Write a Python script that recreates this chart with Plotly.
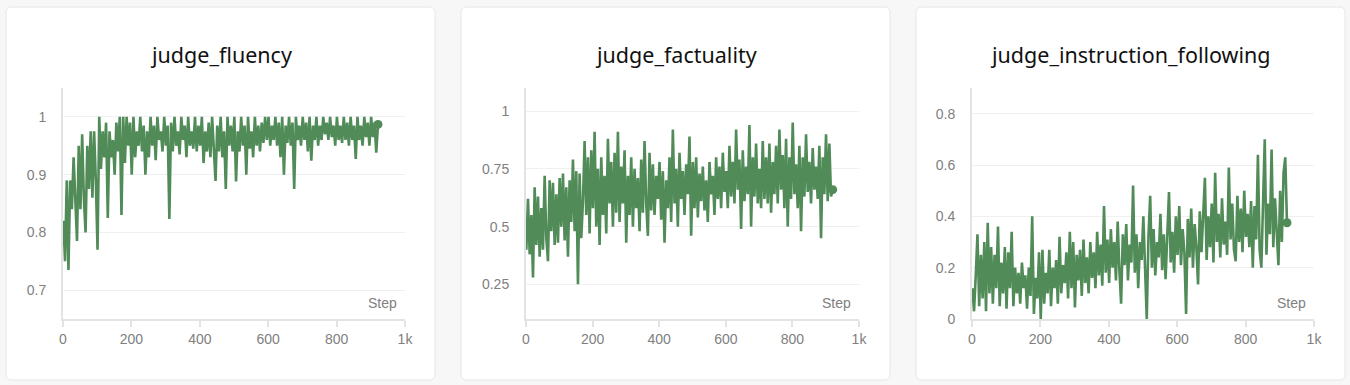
import plotly.graph_objects as go

# ---------------- data (one value every 5 steps) ----------------
titles = ["judge_fluency", "judge_factuality", "judge_instruction_following"]

fluency = [
    0.82, 0.75, 0.89, 0.735, 0.89, 0.84, 0.93, 0.85, 0.785, 0.95,
    0.84, 0.97, 0.86, 0.80, 0.95, 0.875, 0.975, 0.86, 0.975, 0.89,
    0.77, 1.0, 0.91, 0.975, 0.93, 0.99, 0.825, 0.975, 0.93, 0.96,
    0.9, 0.99, 0.94, 1.0, 0.83, 1.0, 0.92, 1.0, 0.95, 0.99,
    0.9, 1.0, 0.93, 0.975, 0.95, 1.0, 0.94, 0.985, 0.9, 0.975,
    0.93, 1.0, 0.95, 0.985, 0.925, 1.0, 0.96, 0.975, 0.94, 1.0,
    0.95, 0.985, 0.823, 0.99, 0.94, 1.0, 0.95, 0.975, 0.935, 1.0,
    0.96, 0.985, 0.93, 1.0, 0.95, 0.975, 0.945, 1.0, 0.94, 0.985,
    0.95, 1.0, 0.92, 0.975, 0.94, 0.99, 0.93, 1.0, 0.95, 0.889,
    0.985, 0.94, 1.0, 0.93, 0.975, 0.875, 1.0, 0.95, 0.985, 0.94,
    1.0, 0.888, 0.975, 0.94, 1.0, 0.95, 0.985, 0.9, 1.0, 0.945,
    0.975, 0.93, 1.0, 0.95, 0.985, 0.94, 0.99, 0.955, 1.0, 0.96,
    1.0, 0.95, 0.985, 0.96, 1.0, 0.95, 0.99, 0.93, 1.0, 0.9,
    0.985, 0.955, 1.0, 0.95, 0.99, 0.875, 1.0, 0.96, 0.985, 0.95,
    1.0, 0.96, 0.99, 0.94, 1.0, 0.924, 0.985, 0.96, 1.0, 0.95,
    0.985, 0.96, 1.0, 0.97, 0.99, 0.96, 1.0, 0.965, 0.985, 0.95,
    1.0, 0.96, 0.985, 0.955, 1.0, 0.96, 0.99, 0.95, 1.0, 0.96,
    0.985, 0.927, 1.0, 0.96, 0.985, 0.95, 1.0, 0.965, 0.99, 0.95,
    1.0, 0.965, 0.99, 0.938, 0.987,
]

factuality = [
    0.40, 0.62, 0.38, 0.55, 0.28, 0.67, 0.42, 0.63, 0.37, 0.58,
    0.40, 0.72, 0.45, 0.35, 0.70, 0.48, 0.69, 0.42, 0.64, 0.43,
    0.71, 0.50, 0.73, 0.44, 0.67, 0.37, 0.70, 0.52, 0.79, 0.48,
    0.74, 0.25, 0.73, 0.45, 0.61, 0.87, 0.55, 0.80, 0.47, 0.83,
    0.58, 0.91, 0.50, 0.75, 0.42, 0.80, 0.55, 0.72, 0.47, 0.88,
    0.60, 0.78, 0.50, 0.82, 0.56, 0.91, 0.52, 0.76, 0.60, 0.83,
    0.43, 0.72, 0.55, 0.80, 0.50, 0.75, 0.58, 0.71, 0.48, 0.79,
    0.56, 0.87, 0.60, 0.46, 0.82, 0.57, 0.77, 0.55, 0.72, 0.62,
    0.78, 0.53, 0.74, 0.43, 0.70, 0.58, 0.80, 0.52, 0.92, 0.60,
    0.75, 0.50, 0.82, 0.62, 0.74, 0.55, 0.77, 0.64, 0.89, 0.46,
    0.78, 0.58, 0.80, 0.54, 0.73, 0.61, 0.76, 0.57, 0.70, 0.52,
    0.78, 0.64, 0.72, 0.55, 0.80, 0.62, 0.76, 0.58, 0.82, 0.65,
    0.74, 0.58, 0.85, 0.63, 0.78, 0.60, 0.92, 0.66, 0.79, 0.49,
    0.83, 0.61, 0.76, 0.64, 0.94, 0.50, 0.80, 0.63, 0.86, 0.60,
    0.75, 0.58, 0.87, 0.62, 0.80, 0.60, 0.86, 0.56, 0.78, 0.64,
    0.85, 0.60, 0.92, 0.66, 0.81, 0.58, 0.88, 0.50, 0.80, 0.62,
    0.95, 0.64, 0.77, 0.58, 0.85, 0.48, 0.80, 0.63, 0.90, 0.65,
    0.78, 0.60, 0.84, 0.66, 0.76, 0.62, 0.85, 0.45, 0.80, 0.64,
    0.90, 0.61, 0.86, 0.63, 0.66,
]

instruction_following = [
    0.12, 0.03, 0.17, 0.33, 0.05, 0.25, 0.08, 0.30, 0.03, 0.375,
    0.10, 0.28, 0.06, 0.25, 0.12, 0.36, 0.05, 0.22, 0.10, 0.28,
    0.04, 0.26, 0.12, 0.34, 0.05, 0.20, 0.10, 0.18, 0.06, 0.22,
    0.12, 0.17, 0.04, 0.20, 0.09, 0.40, 0.02, 0.16, 0.08, 0.26,
    0.00, 0.27, 0.06, 0.18, 0.10, 0.27, 0.05, 0.20, 0.12, 0.23,
    0.06, 0.32, 0.10, 0.21, 0.14, 0.26, 0.08, 0.34, 0.12, 0.30,
    0.045, 0.25, 0.15, 0.27, 0.09, 0.31, 0.14, 0.24, 0.10, 0.30,
    0.16, 0.26, 0.12, 0.34, 0.17, 0.29, 0.13, 0.44, 0.18, 0.31,
    0.14, 0.35, 0.20, 0.30, 0.15, 0.38, 0.19, 0.06, 0.33, 0.21,
    0.37, 0.15, 0.29, 0.22, 0.52, 0.18, 0.33, 0.12, 0.30, 0.23,
    0.40, 0.16, 0.00, 0.32, 0.48, 0.20, 0.35, 0.17, 0.30, 0.24,
    0.41, 0.19, 0.33, 0.155, 0.36, 0.495, 0.22, 0.34, 0.18, 0.40,
    0.25, 0.44, 0.21, 0.35, 0.26, 0.02, 0.39, 0.24, 0.43, 0.20,
    0.37, 0.28, 0.135, 0.42, 0.26, 0.38, 0.55, 0.23, 0.40, 0.28,
    0.45, 0.22, 0.57, 0.30, 0.41, 0.24, 0.47, 0.29, 0.38, 0.25,
    0.59, 0.31, 0.45, 0.27, 0.225, 0.48, 0.30, 0.43, 0.26, 0.50,
    0.32, 0.41, 0.28, 0.46, 0.20, 0.44, 0.31, 0.64, 0.27, 0.20,
    0.48, 0.70, 0.25, 0.45, 0.33, 0.66, 0.28, 0.47, 0.34, 0.21,
    0.50, 0.30, 0.57, 0.63, 0.375,
]

step_start = 1
step_every = 5

x_tickvals = [0, 200, 400, 600, 800, 1000]
x_ticktext = ["0", "200", "400", "600", "800", "1k"]

y_ranges = [[0.65, 1.05], [0.1, 1.1], [0.0, 0.9]]
y_tickvals = [[0.7, 0.8, 0.9, 1.0], [0.25, 0.5, 0.75, 1.0], [0, 0.2, 0.4, 0.6, 0.8]]
y_ticktext = [["0.7", "0.8", "0.9", "1"], ["0.25", "0.5", "0.75", "1"], ["0", "0.2", "0.4", "0.6", "0.8"]]

series = [fluency, factuality, instruction_following]

# ---------------- layout geometry (pixels) ----------------
W, H = 1350, 385
cards = [(6, 435), (461, 890), (916, 1345)]
card_top, card_bot = 7, 380
plot_x = [(63, 405), (526, 859), (972, 1314)]
plot_top, plot_bot = 88, 319
title_y = 55
step_label_y = 303

GREEN = "rgb(80,139,88)"
AXIS = "#e3e3e3"
GRID = "#f0f0f0"
TICKC = "#808080"


def px(x):
    return x / W


def py(y):
    return 1 - y / H


def rounded_rect(x0, y0, x1, y1, r):
    rx, ry = r / W, r / H
    X0, X1 = px(x0), px(x1)
    Y0, Y1 = py(y0), py(y1)
    return (
        f"M {X0+rx},{Y0} L {X1-rx},{Y0} Q {X1},{Y0} {X1},{Y0-ry} "
        f"L {X1},{Y1+ry} Q {X1},{Y1} {X1-rx},{Y1} "
        f"L {X0+rx},{Y1} Q {X0},{Y1} {X0},{Y1+ry} "
        f"L {X0},{Y0-ry} Q {X0},{Y0} {X0+rx},{Y0} Z"
    )


fig = go.Figure()
shapes = []
annotations = []
layout_axes = {}

for k in range(3):
    n = "" if k == 0 else str(k + 1)
    vals = series[k]
    steps = [step_start + step_every * i for i in range(len(vals))]
    fig.add_trace(go.Scatter(
        x=steps, y=vals, mode="lines", xaxis="x" + n, yaxis="y" + n,
        line=dict(color=GREEN, width=2.6), hoverinfo="skip", showlegend=False,
    ))
    fig.add_trace(go.Scatter(
        x=[steps[-1]], y=[vals[-1]], mode="markers", xaxis="x" + n, yaxis="y" + n,
        marker=dict(color=GREEN, size=9), hoverinfo="skip", showlegend=False,
    ))
    shapes.append(dict(
        type="path", xref="paper", yref="paper",
        path=rounded_rect(cards[k][0], card_top, cards[k][1], card_bot, 6),
        fillcolor="white", line=dict(color="#e6e6e6", width=1), layer="below",
    ))
    layout_axes["xaxis" + n] = dict(
        domain=[px(plot_x[k][0]), px(plot_x[k][1])], anchor="y" + n,
        range=[0, 1000], tickvals=x_tickvals, ticktext=x_ticktext,
        showgrid=False, zeroline=False, showline=True, linecolor=AXIS, linewidth=2,
        ticks="outside", ticklen=6, tickcolor=AXIS, tickwidth=2, automargin=False,
        tickfont=dict(family="Liberation Sans, Arial, sans-serif", size=14, color=TICKC),
        fixedrange=True,
    )
    layout_axes["yaxis" + n] = dict(
        domain=[py(plot_bot), py(plot_top)], anchor="x" + n,
        range=y_ranges[k], tickvals=y_tickvals[k], ticktext=y_ticktext[k],
        showgrid=True, gridcolor=GRID, gridwidth=1, zeroline=False,
        showline=True, linecolor=AXIS, linewidth=2, automargin=False,
        ticks="outside", ticklen=12, tickcolor="rgba(0,0,0,0)",
        tickfont=dict(family="Liberation Sans, Arial, sans-serif", size=14, color=TICKC),
        fixedrange=True,
    )
    annotations.append(dict(
        text=titles[k], xref="paper", yref="paper",
        x=px((cards[k][0] + cards[k][1]) / 2), y=py(title_y),
        xanchor="center", yanchor="middle", showarrow=False,
        font=dict(family="Noto Sans, Open Sans, sans-serif", size=21.5, color="#111111"),
    ))
    annotations.append(dict(
        text="Step", xref="x" + n, yref="paper", x=1000, y=py(step_label_y),
        xanchor="right", yanchor="middle", xshift=-6, showarrow=False,
        font=dict(family="Liberation Sans, Arial, sans-serif", size=14, color=TICKC),
    ))

fig.update_layout(
    width=W, height=H, margin=dict(l=0, r=0, t=0, b=0, autoexpand=False),
    paper_bgcolor="#f7f7f7", plot_bgcolor="white",
    shapes=shapes, annotations=annotations, showlegend=False,
    **layout_axes,
)

fig.write_html(
    "out.html", config={"displayModeBar": False},
    post_script="document.body.style.margin='0';",
)
